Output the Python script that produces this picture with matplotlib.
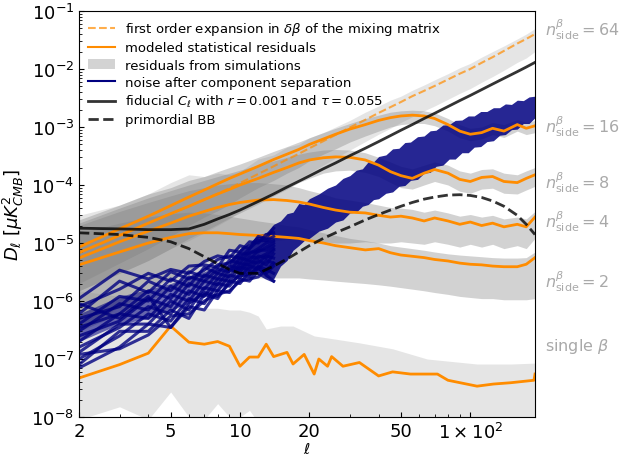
import numpy as np
import matplotlib
matplotlib.use('Agg')
import matplotlib.pyplot as plt
from matplotlib.patches import Patch
from matplotlib.lines import Line2D
from matplotlib.ticker import NullFormatter

# multipole grid used by the smooth curves
ell = [2, 3, 4, 5, 6, 7, 8, 9, 10, 12, 14, 16, 18, 20, 23, 26, 30, 35, 40, 45, 50,
       56, 63, 70, 80, 90, 100, 112, 125, 140, 160, 175, 191]

# fiducial and primordial BB
fiducial = [1.8e-5, 1.75e-5, 1.7e-5, 1.7e-5, 1.75e-5, 2.1e-5, 2.6e-5, 3.1e-5, 3.7e-5, 5.2e-5,
            7e-5, 9.2e-5, 1.16e-4, 1.43e-4, 1.9e-4, 2.4e-4, 3.2e-4, 4.3e-4, 5.6e-4, 7.1e-4,
            8.8e-4, 1.1e-3, 1.4e-3, 1.72e-3, 2.25e-3, 2.85e-3, 3.5e-3, 4.4e-3, 5.5e-3, 6.9e-3,
            9e-3, 1.08e-2, 1.3e-2]
primordial = [1.5e-5, 1.4e-5, 1.25e-5, 1.05e-5, 8e-6, 5.8e-6, 4.4e-6, 3.5e-6, 3.0e-6, 3.0e-6,
              4e-6, 5.3e-6, 7e-6, 9e-6, 1.2e-5, 1.5e-5, 1.9e-5, 2.5e-5, 3.1e-5, 3.7e-5,
              4.3e-5, 5e-5, 5.7e-5, 6.2e-5, 6.7e-5, 6.8e-5, 6.6e-5, 6.1e-5, 5.3e-5, 4.3e-5,
              3.0e-5, 2.1e-5, 1.4e-5]

# first order expansion (nside 64)
first_order = [6.8e-6, 1.35e-5, 2.2e-5, 3.2e-5, 4.3e-5, 5.6e-5, 7.1e-5, 8.8e-5, 1.08e-4, 1.55e-4,
               2.1e-4, 2.75e-4, 3.45e-4, 4.3e-4, 5.7e-4, 7.3e-4, 9.8e-4, 1.33e-3, 1.75e-3, 2.2e-3,
               2.7e-3, 3.4e-3, 4.2e-3, 5.1e-3, 6.6e-3, 8.3e-3, 1.0e-2, 1.28e-2, 1.6e-2, 2.05e-2,
               2.75e-2, 3.3e-2, 4.0e-2]

# modeled statistical residuals
model_16 = [8.5e-6, 1.75e-5, 2.9e-5, 4.4e-5, 6.2e-5, 8.2e-5, 1.05e-4, 1.3e-4, 1.55e-4, 2.1e-4,
            2.75e-4, 3.4e-4, 4.1e-4, 5.0e-4, 6.2e-4, 7.5e-4, 9.2e-4, 1.1e-3, 1.3e-3, 1.45e-3,
            1.55e-3, 1.6e-3, 1.55e-3, 1.4e-3, 1.1e-3, 8.5e-4, 7.5e-4, 8e-4, 9.5e-4, 8.5e-4,
            1.1e-3, 9.5e-4, 1.05e-3]
model_8 = [6.8e-6, 1.35e-5, 2.2e-5, 3.2e-5, 4.3e-5, 5.6e-5, 7e-5, 8.4e-5, 1e-4, 1.3e-4,
           1.65e-4, 2e-4, 2.4e-4, 2.7e-4, 2.95e-4, 3.05e-4, 3.0e-4, 2.7e-4, 2.2e-4, 1.7e-4,
           1.45e-4, 1.3e-4, 1.6e-4, 1.85e-4, 1.6e-4, 1.25e-4, 1.15e-4, 1.35e-4, 1.4e-4, 1.15e-4,
           1.1e-4, 1.3e-4, 1.5e-4]
model_4 = [5.5e-6, 1.05e-5, 1.6e-5, 2.2e-5, 2.9e-5, 3.5e-5, 4.1e-5, 4.6e-5, 5e-5, 5.5e-5,
           5.6e-5, 5.4e-5, 5.1e-5, 4.7e-5, 4.1e-5, 3.7e-5, 3.4e-5, 3.3e-5, 3.0e-5, 2.8e-5,
           2.9e-5, 2.7e-5, 2.4e-5, 2.7e-5, 2.4e-5, 2.1e-5, 2.3e-5, 2.0e-5, 2.2e-5, 1.9e-5,
           2.1e-5, 1.9e-5, 2.8e-5]
model_2 = [4.2e-6, 7e-6, 1e-5, 1.25e-5, 1.45e-5, 1.5e-5, 1.5e-5, 1.45e-5, 1.4e-5, 1.35e-5,
           1.3e-5, 1.25e-5, 1.2e-5, 1.1e-5, 1e-5, 9e-6, 8.3e-6, 7.6e-6, 8e-6, 6.8e-6,
           6.2e-6, 5.9e-6, 5.6e-6, 5.2e-6, 4.9e-6, 4.5e-6, 4.3e-6, 4.2e-6, 4.0e-6, 3.9e-6,
           3.9e-6, 4.3e-6, 5.6e-6]

ell_single = [2, 3, 4, 5, 6, 7, 8, 9, 10, 11, 12, 13, 14, 16, 17, 19, 21, 22, 24, 25, 28, 33,
              40, 46, 55, 72, 80, 107, 126, 150, 189, 191]
model_single = [4.7e-8, 8e-8, 1.26e-7, 3.7e-7, 1.95e-7, 1.8e-7, 2.0e-7, 1.66e-7, 7.5e-8, 1.08e-7,
                1.08e-7, 1.8e-7, 1.1e-7, 1.3e-7, 8.2e-8, 1.2e-7, 5.5e-8, 1e-7, 7.5e-8, 1.1e-7,
                7.5e-8, 8.7e-8, 5.1e-8, 6e-8, 5.5e-8, 5.5e-8, 4.3e-8, 3.4e-8, 3.7e-8, 3.9e-8,
                4.3e-8, 5.5e-8]

# residuals from simulations (min / max envelopes)
sim64_hi = [3e-5, 4.5e-5, 7e-5, 1.1e-4, 1.5e-4, 1.4e-4, 1.6e-4, 1.5e-4, 1.7e-4, 2.8e-4,
            3.3e-4, 4.5e-4, 5e-4, 6.5e-4, 8e-4, 1.0e-3, 1.3e-3, 1.8e-3, 2.3e-3, 2.9e-3,
            3.4e-3, 4.3e-3, 5.3e-3, 6.5e-3, 8.3e-3, 1.05e-2, 1.25e-2, 1.6e-2, 2e-2, 2.5e-2,
            3.3e-2, 4e-2, 5e-2]
sim64_lo = [1.5e-6, 3e-6, 5e-6, 8e-6, 1.1e-5, 1.5e-5, 2e-5, 2.6e-5, 3.5e-5, 5.5e-5,
            7.5e-5, 1e-4, 1.3e-4, 1.6e-4, 2.2e-4, 2.9e-4, 4e-4, 5.6e-4, 7.5e-4, 9.5e-4,
            1.2e-3, 1.5e-3, 1.9e-3, 2.3e-3, 3e-3, 3.8e-3, 4.6e-3, 5.9e-3, 7.4e-3, 9.5e-3,
            1.3e-2, 1.55e-2, 2e-2]
sim16_hi = [2.5e-5, 4.5e-5, 7e-5, 9e-5, 1.2e-4, 1.4e-4, 1.7e-4, 2e-4, 2.3e-4, 3e-4,
            3.8e-4, 4.6e-4, 5.5e-4, 6.5e-4, 8e-4, 9.5e-4, 1.15e-3, 1.4e-3, 1.6e-3, 1.8e-3,
            1.9e-3, 1.95e-3, 1.9e-3, 1.75e-3, 1.4e-3, 1.1e-3, 9.5e-4, 1e-3, 1.2e-3, 1.1e-3,
            1.35e-3, 1.2e-3, 1.3e-3]
sim16_lo = [2e-6, 4.5e-6, 8e-6, 1.3e-5, 2e-5, 2.8e-5, 3.6e-5, 4.6e-5, 6e-5, 9e-5,
            1.2e-4, 1.6e-4, 2e-4, 2.6e-4, 3.4e-4, 4.2e-4, 5.5e-4, 7e-4, 8.5e-4, 1e-3,
            1.1e-3, 1.15e-3, 1.15e-3, 1.05e-3, 8.5e-4, 6.5e-4, 5.8e-4, 6.2e-4, 7.4e-4, 6.6e-4,
            8.5e-4, 7.4e-4, 8e-4]
sim8_hi = [2.2e-5, 4e-5, 6e-5, 8e-5, 1e-4, 1.2e-4, 1.4e-4, 1.6e-4, 1.8e-4, 2.2e-4,
           2.6e-4, 3e-4, 3.4e-4, 3.7e-4, 4e-4, 4.1e-4, 4e-4, 3.6e-4, 3e-4, 2.5e-4,
           2.1e-4, 1.9e-4, 2.2e-4, 2.5e-4, 2.2e-4, 1.75e-4, 1.6e-4, 1.85e-4, 1.9e-4, 1.6e-4,
           1.5e-4, 1.75e-4, 2e-4]
sim8_lo = [1.5e-6, 3e-6, 5e-6, 8e-6, 1.2e-5, 1.6e-5, 2.1e-5, 2.7e-5, 3.3e-5, 4.7e-5,
           6.5e-5, 8.5e-5, 1.1e-4, 1.3e-4, 1.6e-4, 1.75e-4, 1.8e-4, 1.65e-4, 1.4e-4, 1.1e-4,
           9e-5, 8.5e-5, 1e-4, 1.15e-4, 1e-4, 7.8e-5, 7.2e-5, 8.5e-5, 8.8e-5, 7.2e-5,
           7e-5, 8.2e-5, 9.5e-5]
sim4_hi = [2e-5, 3.5e-5, 5e-5, 6.5e-5, 8e-5, 9e-5, 1e-4, 1.05e-4, 1.1e-4, 1.1e-4,
           1.05e-4, 1e-4, 9e-5, 8e-5, 7e-5, 6e-5, 5.5e-5, 5e-5, 4.5e-5, 4.1e-5,
           4e-5, 3.8e-5, 3.4e-5, 3.7e-5, 3.3e-5, 2.9e-5, 3.1e-5, 2.8e-5, 3e-5, 2.6e-5,
           2.8e-5, 2.6e-5, 3.5e-5]
sim4_lo = [3e-7, 8e-7, 1.5e-6, 2.5e-6, 3.5e-6, 4.5e-6, 6e-6, 7e-6, 8e-6, 1e-5,
           1.1e-5, 1.15e-5, 1.15e-5, 1.1e-5, 1.05e-5, 1e-5, 1e-5, 1.05e-5, 1e-5, 1e-5,
           1.05e-5, 1e-5, 9.5e-6, 1.05e-5, 9.5e-6, 8.5e-6, 9.5e-6, 8.5e-6, 9.5e-6, 8e-6,
           9e-6, 8e-6, 1.2e-5]
sim2_hi = [1.5e-5, 2.2e-5, 2.8e-5, 3.2e-5, 3.4e-5, 3.3e-5, 3.1e-5, 2.9e-5, 2.7e-5, 2.4e-5,
           2.2e-5, 2e-5, 1.9e-5, 1.7e-5, 1.5e-5, 1.35e-5, 1.2e-5, 1.1e-5, 1e-5, 9e-6,
           8.5e-6, 8e-6, 7.5e-6, 7e-6, 6.5e-6, 6.2e-6, 6e-6, 5.8e-6, 5.6e-6, 5.5e-6,
           5.5e-6, 5.6e-6, 7e-6]
sim2_lo = [3e-7, 6e-7, 1e-6, 1.5e-6, 1.8e-6, 2e-6, 2.2e-6, 2.3e-6, 2.4e-6, 2.5e-6,
           2.5e-6, 2.5e-6, 2.5e-6, 2.4e-6, 2.3e-6, 2.2e-6, 2.1e-6, 2e-6, 1.9e-6, 1.8e-6,
           1.7e-6, 1.6e-6, 1.5e-6, 1.4e-6, 1.3e-6, 1.2e-6, 1.15e-6, 1.1e-6, 1.1e-6, 1.05e-6,
           1.05e-6, 1.05e-6, 1.1e-6]

ell_band1 = [2, 3, 4, 5, 6, 7, 8, 9, 10, 11, 12, 13, 14, 15, 17, 21, 26, 33, 46, 65, 107, 150, 191]
sim1_hi = [1.5e-6, 1.2e-6, 1e-6, 8e-7, 7.5e-7, 7.5e-7, 7.5e-7, 7e-7, 7e-7, 6.4e-7, 5.5e-7, 3.3e-7,
           3.5e-7, 3.7e-7, 3.7e-7, 2.5e-7, 2.2e-7, 1.9e-7, 1.5e-7, 1e-7, 8.2e-8, 8.2e-8, 8.5e-8]
sim1_lo = [9e-9, 1.5e-8, 9e-9, 2.7e-8, 1e-8, 9e-9, 1.7e-8, 1e-8, 1e-8, 1.3e-8, 8e-9, 9e-9,
           8e-9, 1e-8, 8e-9, 8e-9, 8e-9, 8e-9, 8e-9, 8e-9, 8e-9, 8e-9, 8e-9]

# noise after component separation: envelope at ell >= 9, single realisations at low ell
ell_nband = [9, 10, 11, 12, 13, 14, 15, 16, 17, 18, 19, 20, 22, 24, 26, 28, 30, 32, 34, 36,
             38, 40, 43, 46, 49, 52, 55, 59, 63, 67, 71, 76, 81, 86, 92, 98, 104, 111, 118,
             126, 134, 142, 151, 160, 170, 180, 191]
noise_hi = [5e-6, 8e-6, 1.0e-5, 1.4e-5, 1.5e-5, 2.1e-5, 2.4e-5, 3.2e-5, 3.4e-5, 4.8e-5,
            4.6e-5, 5.8e-5, 7.0e-5, 8.8e-5, 1.0e-4, 1.3e-4, 1.45e-4, 1.8e-4, 1.9e-4, 2.5e-4,
            2.5e-4, 3.1e-4, 3.3e-4, 4.2e-4, 4.3e-4, 5.4e-4, 5.5e-4, 6.8e-4, 7.0e-4, 8.6e-4,
            8.8e-4, 1.08e-3, 1.1e-3, 1.3e-3, 1.32e-3, 1.55e-3, 1.55e-3, 1.85e-3, 1.85e-3,
            2.15e-3, 2.15e-3, 2.5e-3, 2.45e-3, 2.9e-3, 2.85e-3, 3.3e-3, 3.4e-3]
noise_lo = [3.5e-6, 2.8e-6, 3.2e-6, 3.4e-6, 2.6e-6, 2.4e-6, 4e-6, 5e-6, 7.5e-6, 9e-6,
            1.1e-5, 1.2e-5, 1.6e-5, 1.8e-5, 2.3e-5, 2.5e-5, 3.3e-5, 3.4e-5, 4.3e-5, 4.6e-5,
            5.6e-5, 5.8e-5, 7.2e-5, 7.6e-5, 9.5e-5, 9.8e-5, 1.2e-4, 1.25e-4, 1.6e-4, 1.65e-4,
            2.1e-4, 2.2e-4, 2.8e-4, 2.8e-4, 3.6e-4, 3.6e-4, 4.5e-4, 4.6e-4, 5.6e-4,
            5.8e-4, 7.2e-4, 7.4e-4, 9e-4, 9.2e-4, 1.15e-3, 1.15e-3, 1.45e-3]
# dense core of the low-ell realisations
ell_ncore = [2, 3, 4, 5, 6, 7, 8, 9]
noise_core_lo = [2e-7, 4e-7, 5e-7, 7e-7, 9e-7, 1.2e-6, 1.5e-6, 2.2e-6]
noise_core_hi = [6e-7, 1.2e-6, 1.6e-6, 2e-6, 2.6e-6, 3.2e-6, 4e-6, 5e-6]
ell_nlow = [2, 3, 4, 5, 6, 7, 8, 9, 10, 11, 12, 13, 14]
noise_lines = [
    [1.1e-6, 3.4e-6, 2.4e-6, 3.5e-6, 3.0e-6, 4.8e-6, 6e-6, 5.5e-6, 9e-6, 8e-6, 1.3e-5, 1.2e-5, 1.8e-5],
    [8e-7, 1.6e-6, 3.0e-6, 2.2e-6, 4e-6, 4.2e-6, 3.8e-6, 7.5e-6, 7e-6, 1.05e-5, 1e-5, 1.4e-5, 1.5e-5],
    [6e-7, 2.2e-6, 1.4e-6, 3.2e-6, 2.4e-6, 3.4e-6, 5.2e-6, 6e-6, 5.5e-6, 8e-6, 1.1e-5, 1.1e-5, 1.3e-5],
    [5e-7, 8e-7, 2.2e-6, 1.5e-6, 3.2e-6, 2.6e-6, 4.2e-6, 4.5e-6, 6.5e-6, 6.5e-6, 8e-6, 1e-5, 1.1e-5],
    [4e-7, 1.2e-6, 1e-6, 2.4e-6, 1.8e-6, 3.8e-6, 3e-6, 5e-6, 4.5e-6, 7e-6, 7e-6, 8.5e-6, 1e-5],
    [3.5e-7, 6e-7, 1.5e-6, 1.1e-6, 2.6e-6, 2.2e-6, 3.5e-6, 3.2e-6, 5.5e-6, 5e-6, 7.5e-6, 7.5e-6, 9e-6],
    [3e-7, 9e-7, 7e-7, 1.8e-6, 1.3e-6, 2.8e-6, 2.4e-6, 4e-6, 3.6e-6, 5.8e-6, 5.5e-6, 6.5e-6, 8e-6],
    [2.5e-7, 4.5e-7, 1.1e-6, 8e-7, 2e-6, 1.6e-6, 3e-6, 2.6e-6, 4.4e-6, 4.2e-6, 6e-6, 5.5e-6, 7.5e-6],
    [2e-7, 6e-7, 5e-7, 1.3e-6, 1e-6, 2.2e-6, 1.9e-6, 3.4e-6, 3.2e-6, 4.8e-6, 4.5e-6, 6e-6, 5.5e-6],
    [1.6e-7, 3.5e-7, 8e-7, 6e-7, 1.5e-6, 1.2e-6, 2.4e-6, 2.2e-6, 3.8e-6, 3.5e-6, 5e-6, 4.2e-6, 6.5e-6],
    [1.3e-7, 4e-7, 4e-7, 1e-6, 7e-7, 1.7e-6, 1.5e-6, 2.8e-6, 2.5e-6, 4e-6, 3.6e-6, 5e-6, 4.5e-6],
    [1e-7, 2.5e-7, 6e-7, 4.5e-7, 1.1e-6, 9e-7, 2e-6, 1.8e-6, 3e-6, 2.8e-6, 4e-6, 3.5e-6, 3e-6],
    [8e-8, 3e-7, 3e-7, 7e-7, 5e-7, 1.3e-6, 1.1e-6, 2.2e-6, 2e-6, 3.2e-6, 3e-6, 2.5e-6, 2.2e-6],
    [7e-8, 1.6e-7, 4e-7, 3.5e-7, 8e-7, 7e-7, 1.5e-6, 1.4e-6, 2.4e-6, 2.2e-6, 3.3e-6, 3e-6, 4e-6],
    [9e-7, 5e-7, 1.2e-6, 3.5e-7, 9e-7, 1.4e-6, 1.2e-6, 2e-6, 2.8e-6, 2.6e-6, 3.8e-6, 2.8e-6, 2.2e-6],
    [1.2e-7, 1.5e-7, 2.6e-7, 5.5e-7, 6e-7, 1e-6, 1.3e-6, 1.5e-6, 2.2e-6, 2.4e-6, 2.6e-6, 3.4e-6, 4.5e-6],
]

side_labels = [r'$n^{\beta}_{\rm side}=64$', r'$n^{\beta}_{\rm side}=16$', r'$n^{\beta}_{\rm side}=8$',
               r'$n^{\beta}_{\rm side}=4$', r'$n^{\beta}_{\rm side}=2$', r'single $\beta$']
side_label_y = [0.956, 0.717, 0.581, 0.483, 0.335, 0.175]

fig = plt.figure(figsize=(6.24, 4.56), dpi=100)
ax = fig.add_axes([79 / 624, 38 / 456, 456 / 624, 406 / 456])

# simulation bands
ax.fill_between(ell_band1, sim1_lo, sim1_hi, color='grey', alpha=0.2, lw=0)
ax.fill_between(ell, sim64_lo, sim64_hi, color='grey', alpha=0.2, lw=0)
for lo, hi in [(sim16_lo, sim16_hi), (sim8_lo, sim8_hi), (sim4_lo, sim4_hi), (sim2_lo, sim2_hi)]:
    ax.fill_between(ell, lo, hi, color='grey', alpha=0.35, lw=0)

# models
ax.plot(ell, first_order, '--', color='darkorange', alpha=0.7, lw=1.5)
for m in [model_16, model_8, model_4, model_2]:
    ax.plot(ell, m, color='darkorange', lw=2)
ax.plot(ell_single, model_single, color='darkorange', lw=2)

# noise
ax.fill_between(ell_nband, noise_lo, noise_hi, color='navy', alpha=0.85, lw=0)
ax.fill_between(ell_ncore, noise_core_lo, noise_core_hi, color='navy', alpha=0.55, lw=0)
for nl in noise_lines:
    ax.plot(ell_nlow, nl, color='navy', alpha=0.8, lw=2.2)

# fiducial BB
ax.plot(ell, fiducial, color='k', alpha=0.8, lw=2)
ax.plot(ell, primordial, '--', color='k', alpha=0.8, lw=2)

ax.set_xscale('log')
ax.set_yscale('log')
ax.set_xlim(2, 191)
ax.set_ylim(1e-8, 1e-1)
ax.set_xticks([2, 5, 10, 20, 50, 100])
ax.set_xticklabels(['2', '5', '10', '20', '50', r'$1\times10^{2}$'])
ax.xaxis.set_minor_formatter(NullFormatter())
ax.yaxis.set_minor_formatter(NullFormatter())
ax.tick_params(which='both', direction='in', labelsize=13)
ax.set_xlabel(r'$\ell$', fontsize=11, labelpad=-1)
ax.set_ylabel(r'$D_\ell\ [\mu K^2_{CMB}]$', fontsize=13)

for lab, y in zip(side_labels, side_label_y):
    ax.text(1.022, y, lab, transform=ax.transAxes, color='darkgray', fontsize=11.5, va='center')

handles = [Line2D([], [], ls='--', color='darkorange', alpha=0.7, lw=1.5),
           Line2D([], [], color='darkorange', lw=1.5),
           Patch(facecolor='lightgray'),
           Line2D([], [], color='navy', lw=1.5),
           Line2D([], [], color='k', alpha=0.8, lw=2),
           Line2D([], [], ls='--', color='k', alpha=0.8, lw=2)]
labels = [r'first order expansion in $\delta\beta$ of the mixing matrix',
          'modeled statistical residuals', 'residuals from simulations',
          'noise after component separation',
          r'fiducial $C_\ell$ with $r=0.001$ and $\tau=0.055$', 'primordial BB']
ax.legend(handles, labels, loc='upper left', fontsize=9.5, frameon=False,
          labelspacing=0.32, borderaxespad=0.3)

fig.savefig('out.png', dpi=100)
